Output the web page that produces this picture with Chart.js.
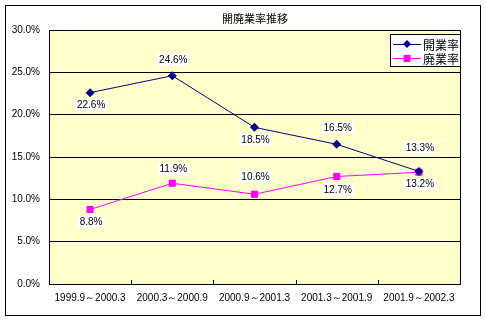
<!DOCTYPE html>
<html><head><meta charset="utf-8">
<script src="https://cdn.jsdelivr.net/npm/chart.js@4/dist/chart.umd.min.js"></script>
<style>html,body{margin:0;padding:0;background:#fff}#w{width:486px;height:322px}</style>
</head><body><div id="w"><canvas id="c" width="486" height="322"></canvas></div>
<script>
const categories = ['1999.9～2000.3','2000.3～2000.9','2000.9～2001.3','2001.3～2001.9','2001.9～2002.3'];
const openRate = [22.6, 24.6, 18.5, 16.5, 13.3];
const closeRate = [8.8, 11.9, 10.6, 12.7, 13.2];
const yTicks = [0, 5, 10, 15, 20, 25, 30];
const chartTitle = '開廃業率推移';
const seriesNames = ['開業率', '廃業率'];

const labelOffsets = [
  [12, -16, 12, -17, -24],
  [12, -14, -18, 13, 12]
];
const FONT = '"Liberation Sans", Arial, sans-serif';
const JFONT = '"Noto Sans CJK JP", sans-serif';

const framePlugin = {
  id: 'frame',
  beforeDraw(chart) {
    const {ctx, chartArea: a} = chart;
    ctx.save();
    ctx.fillStyle = '#fff';
    ctx.fillRect(0, 0, chart.width, chart.height);
    ctx.fillStyle = '#FFFFCC';
    ctx.fillRect(a.left, a.top, a.right - a.left, a.bottom - a.top);
    ctx.restore();
  },
  afterDraw(chart) {
    const {ctx, chartArea: a} = chart;
    ctx.save();
    ctx.strokeStyle = '#000'; ctx.lineWidth = 1;
    ctx.strokeRect(5.5, 5.5, 475, 310);
    ctx.strokeRect(Math.round(a.left) + 0.5, Math.round(a.top) + 0.5, Math.round(a.right - a.left), Math.round(a.bottom - a.top));
    const xs = chart.scales.x;
    for (let i = 0; i < categories.length - 1; i++) {
      const px = Math.round((xs.getPixelForValue(i) + xs.getPixelForValue(i + 1)) / 2) + 0.5;
      ctx.beginPath(); ctx.moveTo(px, a.bottom); ctx.lineTo(px, a.bottom - 4); ctx.stroke();
    }
    ctx.fillStyle = '#000';
    ctx.font = '11px ' + JFONT;
    ctx.textAlign = 'center'; ctx.textBaseline = 'middle';
    ctx.fillText(chartTitle, 255, 19);
    ctx.font = '10px ' + FONT;
    chart.data.datasets.forEach((ds, di) => {
      const meta = chart.getDatasetMeta(di);
      meta.data.forEach((pt, i) => {
        const txt = ds.data[i].toFixed(1) + '%';
        const w = ctx.measureText(txt).width + 4;
        const cx = pt.x + 1, cy = pt.y + labelOffsets[di][i];
        ctx.fillStyle = '#fff';
        ctx.fillRect(cx - w / 2, cy - 6, w, 12);
        ctx.fillStyle = '#000';
        ctx.fillText(txt, cx, cy + 0.5);
      });
    });
    const lx = Math.round(a.right) - 70, ly = Math.round(a.top) + 4;
    ctx.fillStyle = '#fff';
    ctx.fillRect(lx, ly, 70, 32);
    ctx.strokeRect(lx + 0.5, ly + 0.5, 70, 32);
    chart.data.datasets.forEach((ds, di) => {
      const y = ly + 10 + di * 14;
      ctx.strokeStyle = ds.borderColor; ctx.lineWidth = 1;
      ctx.beginPath(); ctx.moveTo(lx + 3, y + 0.5); ctx.lineTo(lx + 31, y + 0.5); ctx.stroke();
      ctx.fillStyle = ds.backgroundColor;
      const mx = lx + 17;
      ctx.beginPath();
      if (di === 0) { ctx.moveTo(mx, y - 4); ctx.lineTo(mx + 4, y); ctx.lineTo(mx, y + 4); ctx.lineTo(mx - 4, y); ctx.closePath(); }
      else { ctx.rect(mx - 3.5, y - 3, 7, 7); }
      ctx.fill();
      ctx.fillStyle = '#000';
      ctx.font = '12px ' + JFONT;
      ctx.textAlign = 'left';
      ctx.fillText(ds.label, lx + 33, y + 1);
    });
    ctx.restore();
  }
};

new Chart(document.getElementById('c'), {
  type: 'line',
  data: {
    labels: categories,
    datasets: [
      {label: seriesNames[0], data: openRate, borderColor: '#000080', backgroundColor: '#000080', borderWidth: 1,
       pointStyle: 'rectRot', pointRadius: 4.5, pointBorderWidth: 0, tension: 0},
      {label: seriesNames[1], data: closeRate, borderColor: '#FF00FF', backgroundColor: '#FF00FF', borderWidth: 1,
       pointStyle: 'rect', pointRadius: 5, pointBorderWidth: 0, tension: 0}
    ]
  },
  options: {
    responsive: false, animation: false,
    layout: {padding: {left: 0, top: 30, right: 26, bottom: 0}},
    plugins: {legend: {display: false}, title: {display: false}, tooltip: {enabled: false}},
    scales: {
      x: {
        offset: true,
        grid: {display: false, drawTicks: false},
        border: {display: true, color: '#000'},
        ticks: {color: '#000', font: {size: 10, family: FONT}, padding: 8, maxRotation: 0, autoSkip: false},
        afterFit(s) { s.height = 38; }
      },
      y: {
        min: 0, max: 30,
        afterBuildTicks(s) { s.ticks = yTicks.map(v => ({value: v})); },
        grid: {color: '#000', drawTicks: false, lineWidth: 1},
        border: {display: true, color: '#000'},
        ticks: {color: '#000', font: {size: 10, family: FONT}, padding: 9, callback: v => v.toFixed(1) + '%'},
        afterFit(s) { s.width = 49; }
      }
    }
  },
  plugins: [framePlugin]
});
</script>
</body></html>
